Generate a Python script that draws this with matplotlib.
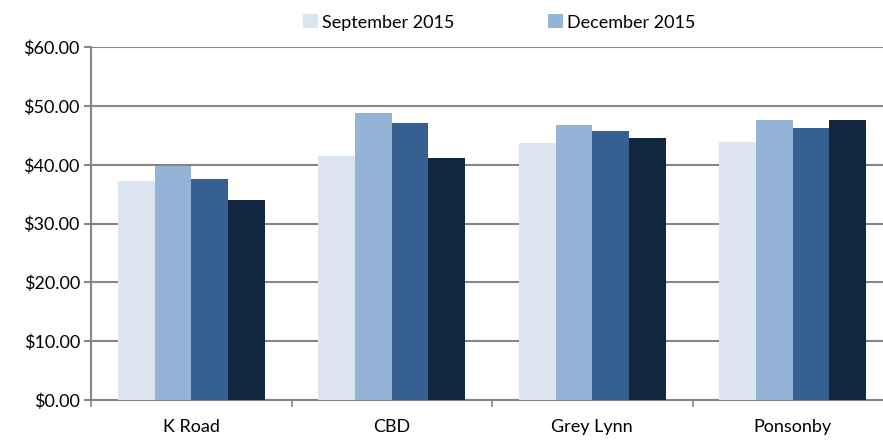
import matplotlib
matplotlib.use("Agg")
import matplotlib.pyplot as plt
import numpy as np
from matplotlib.ticker import FuncFormatter, FixedLocator

plt.rcParams["font.family"] = ["Lato", "DejaVu Sans"]

areas = ["K Road", "CBD", "Grey Lynn", "Ponsonby"]
series_names = ["September 2015", "December 2015", "Series 3", "Series 4"]
sep_2015 = [37.2, 41.5, 43.7, 43.9]
dec_2015 = [39.8, 48.8, 46.8, 47.7]
series_3 = [37.6, 47.2, 45.7, 46.3]
series_4 = [34.0, 41.1, 44.5, 47.6]
colors = ["#DBE5F1", "#95B3D7", "#376092", "#12263F"]

values = [sep_2015, dec_2015, series_3, series_4]
x = np.arange(len(areas))
width = 0.183

fig = plt.figure(figsize=(8.83, 4.40), dpi=100)
ax = fig.add_axes([91 / 883, 40 / 440, 802 / 883, 352.7 / 440])

handles = []
for i, (vals, col) in enumerate(zip(values, colors)):
    h = ax.bar(x + (i - 1.5) * width, vals, width, color=col, zorder=3, linewidth=0)
    handles.append(h)

ax.set_xlim(-0.5, 3.5)
ax.set_ylim(0, 60)
ax.set_yticks(np.arange(0, 61, 10))
ax.yaxis.set_major_formatter(FuncFormatter(lambda v, _: f"${v:.2f}"))
ax.grid(axis="y", color="#868686", linewidth=1.5, zorder=0)
ax.set_xticks(x)
ax.set_xticklabels(areas)
ax.xaxis.set_minor_locator(FixedLocator(np.arange(-0.5, 4, 1)))
ax.tick_params(axis="x", which="major", length=0, pad=14, labelsize=13)
ax.tick_params(axis="x", which="minor", length=5, width=1.2, color="#868686")
ax.tick_params(axis="y", length=5, width=1.5, color="#868686", labelsize=13, pad=3)

for s in ["top", "right"]:
    ax.spines[s].set_visible(False)
for s in ["left", "bottom"]:
    ax.spines[s].set_color("#868686")
    ax.spines[s].set_linewidth(1.5)

fig.legend(handles[:2], series_names[:2], loc="upper center", ncol=2,
           bbox_to_anchor=(0.565, 1.005), frameon=False, fontsize=13,
           handlelength=0.85, handleheight=0.85, handletextpad=0.2, columnspacing=5.2)

fig.savefig("out.png", dpi=100)
